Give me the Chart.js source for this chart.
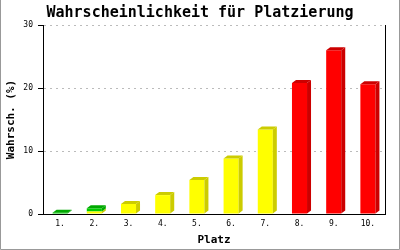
<!DOCTYPE html>
<html>
<head>
<meta charset="utf-8">
<script src="https://cdn.jsdelivr.net/npm/chart.js@4.4.0/dist/chart.umd.min.js"></script>
<style>
    html, body { margin: 0; padding: 0; background: #fff; }
    #wrap { width: 400px; height: 250px; }
</style>
</head>
<body>
<div id="wrap"><canvas id="platzChart" width="400" height="250"></canvas></div>
<script>
const platzLabels = ['1.', '2.', '3.', '4.', '5.', '6.', '7.', '8.', '9.', '10.'];
// stacked: yellow at bottom, green above it, red separate
const gelbWerte = [null, 0.4, 1.6, 3.0, 5.4, 8.8, 13.4, null, null, null];
const gruenWerte = [0.2, 0.5, null, null, null, null, null, null, null, null];
const rotWerte = [null, null, null, null, null, null, null, 20.8, 26.0, 20.6];
const yTicks = [0, 10, 20, 30];

const monoFont = '"DejaVu Sans Mono", "Liberation Mono", monospace';

// white background and gray frame
const framePlugin = {
    id: 'frame',
    beforeDraw(chart) {
        const ctx = chart.ctx;
        ctx.save();
        ctx.fillStyle = '#fff';
        ctx.fillRect(0, 0, chart.width, chart.height);
        ctx.strokeStyle = '#999';
        ctx.lineWidth = 1;
        ctx.beginPath();
        ctx.moveTo(0.5, 0);
        ctx.lineTo(0.5, chart.height - 0.5);
        ctx.lineTo(chart.width - 0.5, chart.height - 0.5);
        ctx.lineTo(chart.width - 0.5, 0);
        ctx.stroke();
        ctx.restore();
    }
};

// fake 3D: side and top faces for each bar
const depthPlugin = {
    id: 'depth',
    afterDatasetsDraw(chart) {
        const ctx = chart.ctx;
        const dx = 4, dy = 3;
        const sets = chart.data.datasets;
        ctx.save();
        sets.forEach((ds, di) => {
            const meta = chart.getDatasetMeta(di);
            meta.data.forEach((bar, i) => {
                if (!ds.data[i]) return;
                const p = bar.getProps(['x', 'y', 'base', 'width'], true);
                const l = p.x - p.width / 2;
                const r = p.x + p.width / 2;
                ctx.fillStyle = ds.sideColor;
                ctx.beginPath();
                ctx.moveTo(r, p.y);
                ctx.lineTo(r + dx, p.y - dy);
                ctx.lineTo(r + dx, p.base - dy);
                ctx.lineTo(r, p.base);
                ctx.closePath();
                ctx.fill();
                // top face only on the highest segment of the stack
                let covered = false;
                for (let k = di + 1; k < sets.length; k++) {
                    if (sets[k].stack === ds.stack && sets[k].data[i]) covered = true;
                }
                if (!covered) {
                    ctx.beginPath();
                    ctx.moveTo(l, p.y);
                    ctx.lineTo(l + dx, p.y - dy);
                    ctx.lineTo(r + dx, p.y - dy);
                    ctx.lineTo(r, p.y);
                    ctx.closePath();
                    ctx.fill();
                }
            });
        });
        ctx.restore();
    }
};

const ctx = document.getElementById('platzChart').getContext('2d');
new Chart(ctx, {
    type: 'bar',
    data: {
        labels: platzLabels,
        datasets: [
            {
                label: 'gelb',
                data: gelbWerte,
                backgroundColor: '#ffff00',
                sideColor: '#cccc00',
                stack: 's'
            },
            {
                label: 'grün',
                data: gruenWerte,
                backgroundColor: '#00cc00',
                sideColor: '#00a800',
                stack: 's'
            },
            {
                label: 'rot',
                data: rotWerte,
                backgroundColor: '#ff0000',
                sideColor: '#cc0000',
                stack: 's'
            }
        ]
    },
    options: {
        responsive: false,
        animation: false,
        barPercentage: 0.44,
        categoryPercentage: 1,
        layout: { padding: 0 },
        plugins: {
            legend: { display: false },
            tooltip: { enabled: false },
            title: {
                display: true,
                text: 'Wahrscheinlichkeit für Platzierung',
                color: '#000',
                font: { family: monoFont, size: 15, weight: 'bold', lineHeight: 1.2 },
                padding: { top: 4, bottom: 3 }
            }
        },
        scales: {
            x: {
                stacked: true,
                afterFit: (scale) => { scale.height = 36; },
                grid: { display: false, drawTicks: false },
                border: { display: true, color: '#000', width: 1 },
                ticks: {
                    color: '#000',
                    padding: 5,
                    font: { family: monoFont, size: 8 }
                },
                title: {
                    display: true,
                    text: 'Platz',
                    color: '#000',
                    font: { family: monoFont, size: 11, weight: 'bold', lineHeight: 1.2 },
                    padding: { top: 0, bottom: 3 }
                }
            },
            y: {
                stacked: true,
                min: 0,
                max: 30,
                afterFit: (scale) => { scale.width = 43; },
                afterBuildTicks: (scale) => { scale.ticks = yTicks.map(v => ({ value: v })); },
                grid: {
                    color: '#bbb',
                    tickColor: '#000',
                    tickBorderDash: [],
                    tickLength: 5
                },
                border: { display: true, color: '#000', width: 1, dash: [2, 4] },
                ticks: {
                    color: '#000',
                    padding: 5,
                    font: { family: monoFont, size: 8 }
                },
                title: {
                    display: true,
                    text: 'Wahrsch. (%)',
                    color: '#000',
                    font: { family: monoFont, size: 11, weight: 'bold', lineHeight: 1.2 },
                    padding: { top: 5, bottom: 0 }
                }
            },
            // empty right axis: only gives the right black frame line and margin
            yRight: {
                position: 'right',
                min: 0,
                max: 30,
                afterFit: (scale) => { scale.width = 15; },
                grid: { display: false, drawTicks: false },
                border: { display: true, color: '#000', width: 1 },
                ticks: { display: false }
            }
        }
    },
    plugins: [framePlugin, depthPlugin]
});
</script>
</body>
</html>
